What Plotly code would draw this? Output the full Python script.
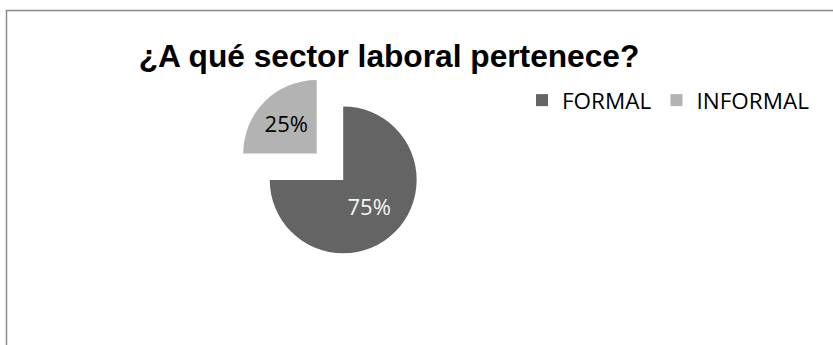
import plotly.graph_objects as go

labels = ["FORMAL", "INFORMAL"]
values = [75, 25]
colors = ["#646464", "#b3b3b3"]
label_colors = ["#f5f5f5", "#000000"]
pulls = [0, 0.51]

W, H = 833, 345

fig = go.Figure()
fig.add_trace(go.Pie(
    labels=labels,
    values=values,
    sort=False,
    direction="clockwise",
    rotation=0,
    pull=pulls,
    marker=dict(colors=colors, line=dict(width=0)),
    textinfo="percent",
    texttemplate="%{percent:.0%}",
    textposition="inside",
    insidetextorientation="horizontal",
    insidetextfont=dict(family="Open Sans", size=22, color=label_colors),
    domain=dict(x=[0.232, 0.592], y=[0.157, 0.800]),
    hoverinfo="label+percent",
))

fig.update_layout(
    width=W, height=H,
    margin=dict(l=0, r=0, t=0, b=0),
    paper_bgcolor="white",
    plot_bgcolor="white",
    title=dict(
        text="<b>¿A qué sector laboral pertenece?</b>",
        font=dict(family="Liberation Sans", size=31.7, color="#000000"),
        x=389 / W, xanchor="center",
        y=1 - 56 / H, yanchor="middle",
    ),
    legend=dict(
        orientation="h",
        x=522 / W, xanchor="left",
        y=1 - 79 / H, yanchor="top",
        font=dict(family="Open Sans", size=22.5, color="#000000"),
        itemwidth=30,
        traceorder="normal",
        bgcolor="rgba(0,0,0,0)",
    ),
    shapes=[dict(
        type="rect", xref="paper", yref="paper",
        x0=6.5 / W, x1=1.05, y0=-0.05, y1=1 - 10.5 / H,
        line=dict(color="#8c8c8c", width=1.5),
        fillcolor="rgba(0,0,0,0)", layer="below",
    )],
)

fig.write_html("out.html")
